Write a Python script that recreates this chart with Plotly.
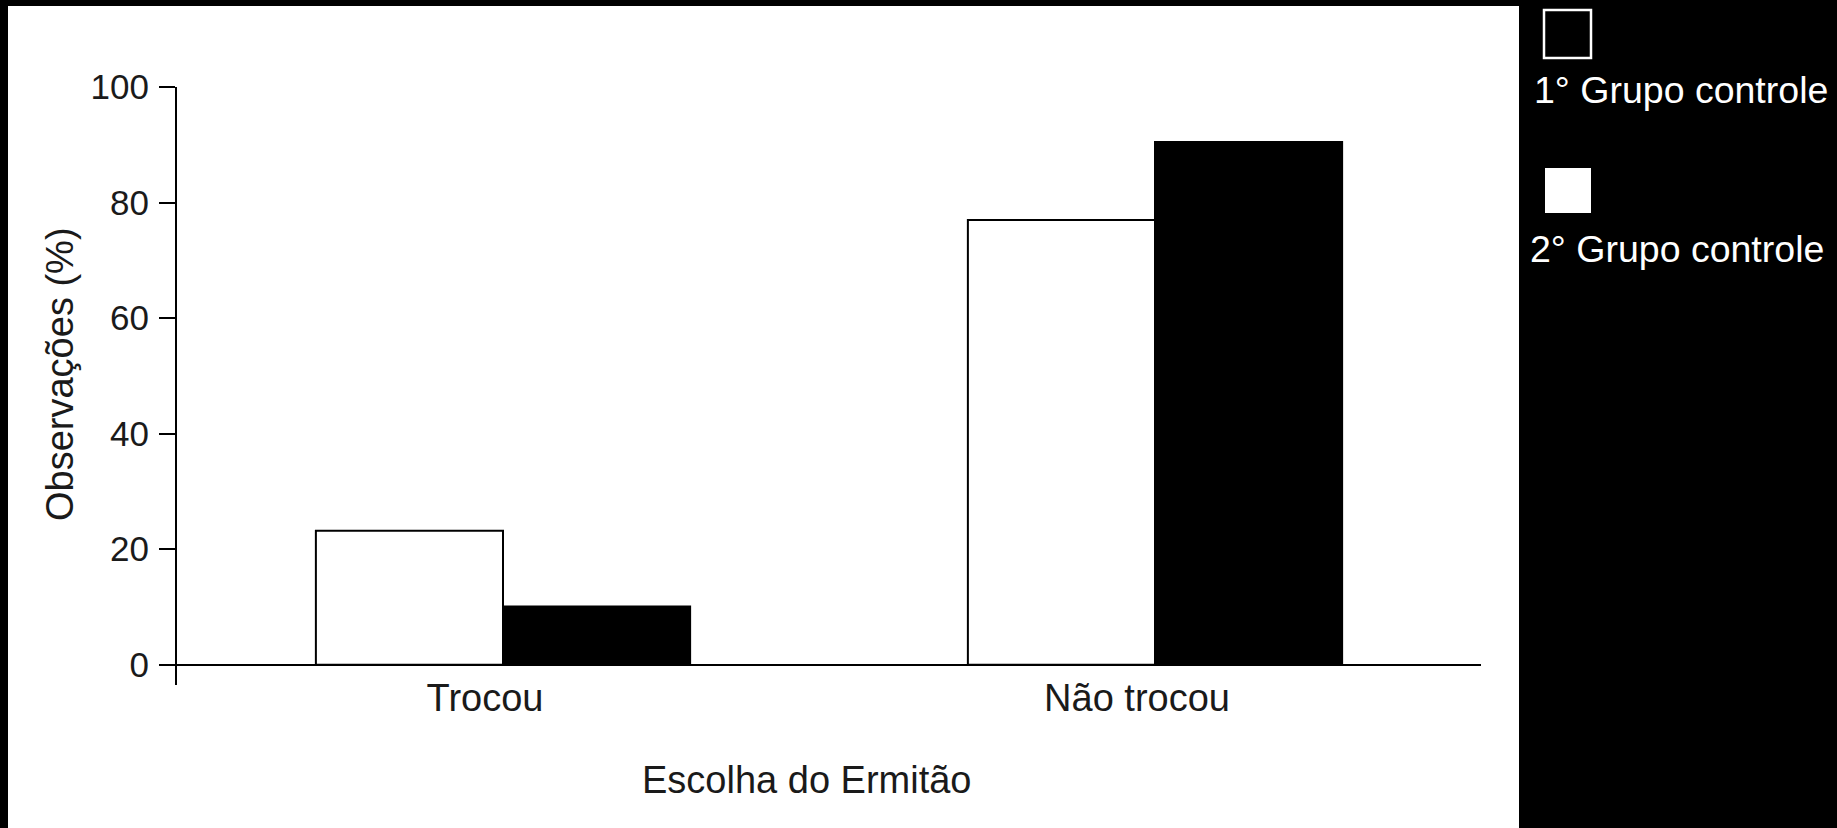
import plotly.graph_objects as go

# ---- data ----
categories = ["Trocou", "Não trocou"]
grupo1 = [23.2, 77.0]   # 1° Grupo controle (white bars)
grupo2 = [10.1, 90.5]   # 2° Grupo controle (black bars)
series_names = ["1° Grupo controle", "2° Grupo controle"]
y_ticks = [0, 20, 40, 60, 80, 100]

# ---- layout geometry (page pixels; page margin removed below) ----
OFF = 0
W, H = 1837, 828
L, R, T, B = 177 - OFF, 1481 - OFF, 87 - OFF, 685 - OFF   # plot area edges in figure px

def px_x(px):
    return (px - OFF - L) / (R - L)

def px_y(py):
    return (B - (py - OFF)) / (B - T)

FONT = "Liberation Sans, Arial, Helvetica, sans-serif"
TXT = "#1a1a1a"

fig = go.Figure()
fig.add_trace(go.Bar(
    x=categories, y=grupo1, name=series_names[0],
    marker=dict(color="white", line=dict(color="black", width=2)),
    showlegend=False,
))
fig.add_trace(go.Bar(
    x=categories, y=grupo2, name=series_names[1],
    marker=dict(color="black", line=dict(color="black", width=2)),
    showlegend=False,
))

shapes = [
    # white chart card on black page
    dict(type="rect", xref="paper", yref="paper",
         x0=px_x(8), x1=px_x(1519), y0=px_y(900), y1=px_y(6),
         fillcolor="white", line=dict(width=0), layer="below"),
    # legend swatches
    dict(type="rect", xref="paper", yref="paper",
         x0=px_x(1544), x1=px_x(1591), y0=px_y(58), y1=px_y(10),
         fillcolor="black", line=dict(color="white", width=2.5)),
    dict(type="rect", xref="paper", yref="paper",
         x0=px_x(1545), x1=px_x(1591), y0=px_y(213), y1=px_y(168),
         fillcolor="white", line=dict(width=0)),
]

annotations = [
    dict(text="Escolha do Ermitão", xref="paper", yref="paper",
         x=px_x(807), y=px_y(780), xanchor="center", yanchor="middle",
         showarrow=False, font=dict(family=FONT, size=38, color=TXT)),
    dict(text="Observações (%)", xref="paper", yref="paper",
         x=px_x(60), y=px_y(374), xanchor="center", yanchor="middle",
         textangle=-90, showarrow=False, font=dict(family=FONT, size=38, color=TXT)),
    dict(text=series_names[0], xref="paper", yref="paper",
         x=px_x(1681), y=px_y(90), xanchor="center", yanchor="middle",
         showarrow=False, font=dict(family=FONT, size=37.5, color="white")),
    dict(text=series_names[1], xref="paper", yref="paper",
         x=px_x(1677), y=px_y(249), xanchor="center", yanchor="middle",
         showarrow=False, font=dict(family=FONT, size=37.5, color="white")),
]

fig.update_layout(
    width=W, height=H,
    margin=dict(l=L, r=W - R, t=T, b=H - B, pad=0),
    paper_bgcolor="black",
    plot_bgcolor="white",
    barmode="group",
    bargap=0.426,
    bargroupgap=0,
    shapes=shapes,
    annotations=annotations,
    font=dict(family=FONT, color=TXT),
)

fig.update_xaxes(
    range=[-0.5, 1.5],
    showline=False, showgrid=False, zeroline=False,
    ticks="", tickfont=dict(family=FONT, size=38, color=TXT),
    ticklabelshift=-18, ticklabelstandoff=-13,
)
fig.update_yaxes(
    range=[-3.5, 100],
    tickvals=y_ticks,
    showline=True, linecolor="black", linewidth=2,
    ticks="outside", ticklen=16, tickwidth=2, tickcolor="black",
    showgrid=False,
    zeroline=True, zerolinecolor="black", zerolinewidth=2,
    tickfont=dict(family=FONT, size=35, color=TXT),
    ticklabelstandoff=3,
)

fig.write_html(
    "out.html",
    config={"displayModeBar": False},
    post_script="document.body.style.margin='0';document.body.style.background='black';",
)
